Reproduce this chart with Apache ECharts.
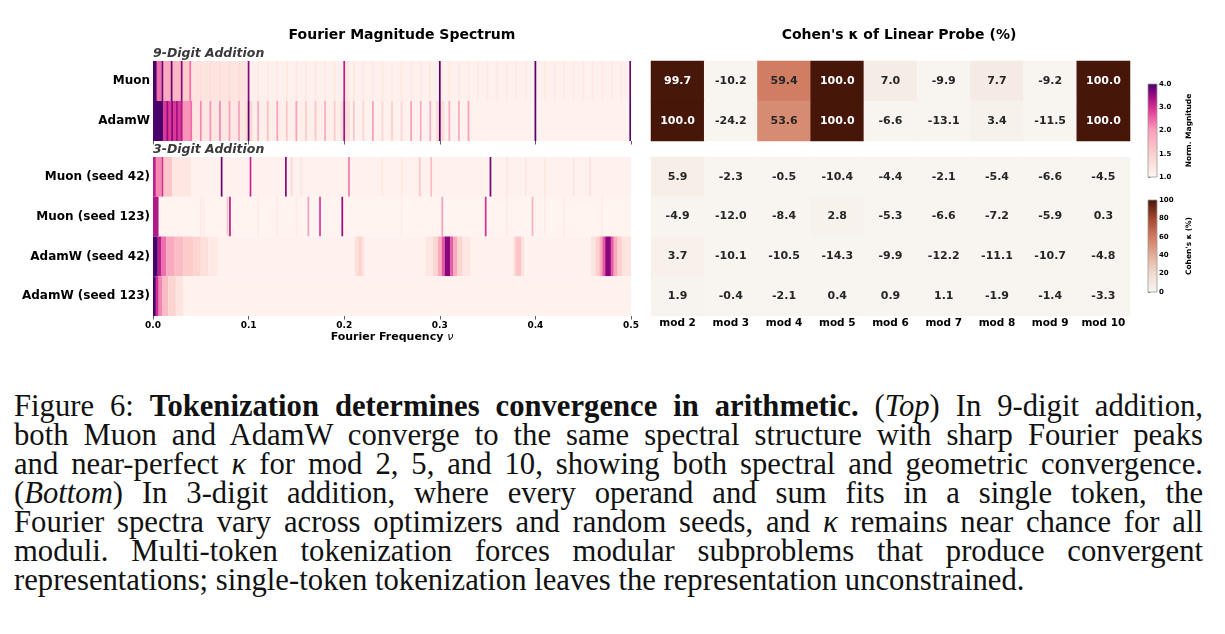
<!DOCTYPE html>
<html>
<head>
<meta charset="utf-8">
<script src="https://cdn.jsdelivr.net/npm/echarts/dist/echarts.min.js"></script>
<style>
  body { margin: 0; background: #fff; }
  #chart { position: absolute; left: 0; top: 0; width: 1225px; height: 360px; }
  #caption { position: absolute; left: 14px; width: 1189px; color: #111; }
  #caption .ln { text-align: justify; text-align-last: justify; }
  #caption .ln.last { text-align-last: left; }
</style>
</head>
<body>
<div id="chart"></div>
<div id="caption">
  <div class="ln">Figure 6: <b>Tokenization determines convergence in arithmetic.</b> (<i>Top</i>) In 9-digit addition,</div>
  <div class="ln">both Muon and AdamW converge to the same spectral structure with sharp Fourier peaks</div>
  <div class="ln">and near-perfect <i>κ</i> for mod 2, 5, and 10, showing both spectral and geometric convergence.</div>
  <div class="ln">(<i>Bottom</i>) In 3-digit addition, where every operand and sum fits in a single token, the</div>
  <div class="ln">Fourier spectra vary across optimizers and random seeds, and <i>κ</i> remains near chance for all</div>
  <div class="ln">moduli. Multi-token tokenization forces modular subproblems that produce convergent</div>
  <div class="ln last" id="lastLine">representations; single-token tokenization leaves the representation unconstrained.</div>
</div>
<script>
// rows / columns
var rows9 = ['Muon', 'AdamW'];
var rows3 = ['Muon (seed 42)', 'Muon (seed 123)', 'AdamW (seed 42)', 'AdamW (seed 123)'];
var mods = ['mod 2', 'mod 3', 'mod 4', 'mod 5', 'mod 6', 'mod 7', 'mod 8', 'mod 9', 'mod 10'];
var normTicks = ['1.0', '1.5', '2.0', '3.0', '4.0'];

// Cohen's kappa (%) per row, mod 2..10
var kappaMuon9 = [99.7, -10.2, 59.4, 100.0, 7.0, -9.9, 7.7, -9.2, 100.0];
var kappaAdamw9 = [100.0, -24.2, 53.6, 100.0, -6.6, -13.1, 3.4, -11.5, 100.0];
var kappaMuon42 = [5.9, -2.3, -0.5, -10.4, -4.4, -2.1, -5.4, -6.6, -4.5];
var kappaMuon123 = [-4.9, -12.0, -8.4, 2.8, -5.3, -6.6, -7.2, -5.9, 0.3];
var kappaAdamw42 = [3.7, -10.1, -10.5, -14.3, -9.9, -12.2, -11.1, -10.7, -4.8];
var kappaAdamw123 = [1.9, -0.4, -2.1, 0.4, 0.9, 1.1, -1.9, -1.4, -3.3];

// spectra: bands [f0, f1, magnitude], lines [f, magnitude] (one bin wide)
var BIN = 0.0018;
var muon9Bands = [[0, 0.004, 4.0], [0.004, 0.009, 2.4], [0.009, 0.019, 1.9], [0.019, 0.030, 1.75],
  [0.030, 0.040, 1.55], [0.040, 0.100, 1.25], [0.100, 0.500, 1.09], [0.200, 0.205, 1.22], [0.300, 0.303, 1.18]];
var muon9Lines = [[0.0098, 3.8], [0.0195, 3.8], [0.030, 3.6], [0.039, 2.4], [0.100, 3.6], [0.200, 3.2],
  [0.300, 3.9], [0.400, 3.9], [0.4992, 3.8],
  [0.05, 1.32], [0.06, 1.32], [0.07, 1.32], [0.08, 1.32], [0.09, 1.32],
  [0.11, 1.2], [0.12, 1.2], [0.13, 1.2], [0.14, 1.2], [0.15, 1.2], [0.16, 1.2], [0.17, 1.2], [0.18, 1.2], [0.19, 1.2],
  [0.21, 1.18], [0.22, 1.18], [0.23, 1.18], [0.24, 1.18], [0.25, 1.18], [0.26, 1.18], [0.27, 1.18], [0.28, 1.18], [0.29, 1.18],
  [0.31, 1.18], [0.32, 1.18], [0.33, 1.18], [0.34, 1.18], [0.35, 1.18], [0.36, 1.18], [0.37, 1.18], [0.38, 1.18], [0.39, 1.18],
  [0.41, 1.18], [0.42, 1.18], [0.43, 1.18], [0.44, 1.18], [0.45, 1.18], [0.46, 1.18], [0.47, 1.18], [0.48, 1.18], [0.49, 1.18]];

var adamw9Bands = [[0, 0.0105, 4.0], [0.0105, 0.030, 2.9], [0.030, 0.040, 2.1], [0.040, 0.100, 1.2],
  [0.100, 0.200, 1.1], [0.200, 0.500, 1.06], [0.097, 0.104, 1.4], [0.196, 0.206, 1.3], [0.296, 0.305, 1.35]];
var adamw9Lines = [[0.015, 3.5], [0.020, 3.6], [0.025, 3.4], [0.030, 3.3], [0.040, 2.4], [0.050, 2.2],
  [0.060, 2.1], [0.070, 2.2], [0.080, 2.0], [0.090, 2.0], [0.100, 3.9],
  [0.11, 1.9], [0.12, 1.7], [0.13, 2.0], [0.14, 1.6], [0.15, 2.0], [0.16, 1.55], [0.17, 1.6], [0.18, 1.9], [0.19, 1.55],
  [0.200, 3.4], [0.21, 1.6], [0.22, 1.45], [0.23, 2.0], [0.24, 1.4], [0.25, 1.5], [0.26, 1.4], [0.27, 2.0],
  [0.28, 1.9], [0.29, 1.9], [0.300, 3.9], [0.31, 1.9], [0.32, 1.9], [0.33, 2.0], [0.400, 3.9], [0.4992, 3.9]];

var muon42Bands = [[0, 0.003, 3.2], [0.003, 0.009, 2.2], [0.009, 0.020, 1.6], [0.020, 0.040, 1.2], [0.040, 0.500, 1.08]];
var muon42Lines = [[0.0098, 3.0], [0.0125, 1.6], [0.0718, 3.8], [0.102, 3.1], [0.139, 3.6], [0.145, 1.4],
  [0.155, 1.25], [0.205, 2.3], [0.24, 1.2], [0.26, 1.2], [0.279, 1.6], [0.291, 1.7], [0.353, 3.7],
  [0.37, 1.2], [0.39, 1.2], [0.41, 1.2], [0.44, 1.2], [0.457, 1.3]];

var muon123Bands = [[0, 0.006, 3.3], [0.006, 0.500, 1.04]];
var muon123Lines = [[0.05, 1.15], [0.0535, 1.15], [0.078, 1.6], [0.0805, 3.2], [0.11, 1.15], [0.13, 1.15],
  [0.15, 1.15], [0.1625, 2.0], [0.1747, 2.9], [0.198, 3.5], [0.26, 1.15], [0.3026, 2.0], [0.348, 3.0],
  [0.37, 1.15], [0.397, 1.8], [0.41, 1.15], [0.43, 1.15], [0.47, 1.15]];

var adamw42Bands = [[0, 0.005, 4.0], [0.005, 0.009, 3.2], [0.009, 0.014, 2.4], [0.014, 0.022, 1.9],
  [0.022, 0.032, 1.7], [0.032, 0.042, 1.55], [0.042, 0.050, 1.45], [0.050, 0.058, 1.3], [0.058, 0.068, 1.18],
  [0.068, 0.500, 1.07],
  [0.211, 0.214, 1.3], [0.214, 0.219, 1.45], [0.219, 0.221, 1.3],
  [0.285, 0.293, 1.2], [0.293, 0.298, 1.45], [0.298, 0.302, 1.9], [0.302, 0.305, 2.6], [0.305, 0.311, 3.6],
  [0.311, 0.314, 2.6], [0.314, 0.318, 1.9], [0.318, 0.324, 1.45], [0.324, 0.332, 1.2],
  [0.377, 0.379, 1.3], [0.379, 0.385, 1.6], [0.385, 0.388, 1.3],
  [0.458, 0.463, 1.25], [0.463, 0.467, 1.5], [0.467, 0.470, 1.9], [0.470, 0.473, 2.6], [0.473, 0.479, 3.6],
  [0.479, 0.482, 2.6], [0.482, 0.486, 1.9], [0.486, 0.491, 1.5], [0.491, 0.500, 1.25]];
var adamw42Lines = [];

var adamw123Bands = [[0, 0.003, 4.0], [0.003, 0.006, 3.0], [0.006, 0.010, 2.2], [0.010, 0.016, 1.7],
  [0.016, 0.024, 1.45], [0.024, 0.032, 1.25], [0.032, 0.500, 1.07]];
var adamw123Lines = [];

// colour maps (colorbar positions evenly spaced)
var normColors = ['#fff7f3', '#fcd0cc', '#f9a0bb', '#f062a6', '#d42d92', '#980a80', '#49006a'];
var kappaColors = ['#f8f5f1', '#f0dcd0', '#e4ad98', '#cf7b62', '#a3452e', '#461609'];

var FONT = 'DejaVu Sans';

function spectrumRow(bands, lines, rowIdx) {
  var out = [];
  bands.forEach(function (b) { out.push([b[0], b[1], rowIdx, b[2]]); });
  lines.forEach(function (l) { out.push([l[0] - BIN / 2, l[0] + BIN / 2, rowIdx, l[1]]); });
  return out;
}

function renderSpan(params, api) {
  var p0 = api.coord([api.value(0), api.value(2)]);
  var p1 = api.coord([api.value(1), api.value(2)]);
  var h = api.size([0, 1])[1];
  return {
    type: 'rect',
    shape: { x: p0[0], y: p0[1] - h / 2, width: Math.max(p1[0] - p0[0], 0.9), height: h },
    style: { fill: api.visual('color') }
  };
}

function heatData(rowsVals) {
  var out = [];
  rowsVals.forEach(function (vals, r) {
    vals.forEach(function (v, c) {
      out.push({ value: [c, r, v], label: { color: v > 80 ? '#ffffff' : '#262626' } });
    });
  });
  return out;
}

function colorbar(stops) {
  return function (params, api) {
    var cs = params.coordSys;
    return {
      type: 'rect',
      shape: { x: cs.x, y: cs.y, width: cs.width, height: cs.height },
      style: { fill: new echarts.graphic.LinearGradient(0, 1, 0, 0, stops), stroke: '#9a9a9a', lineWidth: 0.8 }
    };
  };
}

var normStops = [
  { offset: 0, color: normColors[0] }, { offset: 0.25, color: normColors[1] }, { offset: 0.5, color: normColors[2] },
  { offset: 0.625, color: normColors[3] }, { offset: 0.75, color: normColors[4] }, { offset: 0.875, color: normColors[5] },
  { offset: 1, color: normColors[6] }];
var kappaStops = kappaColors.map(function (c, i) { return { offset: i / (kappaColors.length - 1), color: c }; });

var rowLabel = { fontSize: 12, fontWeight: 'bold', color: '#000', margin: 3, fontFamily: FONT };
var tickStyle = { show: true, length: 3.5, lineStyle: { color: '#333', width: 0.8 } };
var subTitle = { font: 'italic bold 12.5px "DejaVu Sans"', fill: '#3a3a3a', verticalAlign: 'middle' };
var kappaLabel = { show: true, fontSize: 11, fontWeight: 'bold', fontFamily: FONT,
  formatter: function (p) { return p.value[2].toFixed(1); } };

var chart = echarts.init(document.getElementById('chart'));
chart.setOption({
  animation: false,
  textStyle: { fontFamily: FONT },
  graphic: [
    { type: 'text', x: 402, y: 35, style: { text: 'Fourier Magnitude Spectrum', font: 'bold 14px "DejaVu Sans"', fill: '#000', align: 'center', verticalAlign: 'middle' } },
    { type: 'text', x: 899, y: 35, style: { text: "Cohen's κ of Linear Probe (%)", font: 'bold 14px "DejaVu Sans"', fill: '#000', align: 'center', verticalAlign: 'middle' } },
    { type: 'text', x: 153, y: 54, style: Object.assign({ text: '9-Digit Addition' }, subTitle) },
    { type: 'text', x: 153, y: 150, style: Object.assign({ text: '3-Digit Addition' }, subTitle) }
  ],
  grid: [
    { left: 153, top: 61, width: 478, height: 80 },
    { left: 153, top: 157, width: 478, height: 159 },
    { left: 651, top: 61, width: 479, height: 80 },
    { left: 651, top: 157, width: 479, height: 159 },
    { left: 1148, top: 84, width: 9, height: 93 },
    { left: 1148, top: 200, width: 9, height: 92 }
  ],
  xAxis: [
    { gridIndex: 0, type: 'value', min: 0, max: 0.5, interval: 0.1, axisLine: { show: false }, axisTick: tickStyle,
      axisLabel: { show: false }, splitLine: { show: false } },
    { gridIndex: 1, type: 'value', min: 0, max: 0.5, interval: 0.1, axisLine: { show: false }, axisTick: tickStyle,
      axisLabel: { fontSize: 9, fontWeight: 'bold', color: '#000', margin: 5, formatter: function (v) { return v.toFixed(1); } },
      splitLine: { show: false },
      name: 'Fourier Frequency {it|ν}', nameLocation: 'middle', nameGap: 16,
      nameTextStyle: { fontSize: 11, fontWeight: 'bold', color: '#000', rich: { it: { fontSize: 11, fontStyle: 'italic', fontWeight: 'normal', color: '#000' } } } },
    { gridIndex: 2, type: 'category', data: mods, axisLine: { show: false }, axisTick: { show: false }, axisLabel: { show: false } },
    { gridIndex: 3, type: 'category', data: mods, axisLine: { show: false }, axisTick: { show: false },
      axisLabel: { interval: 0, fontSize: 10.5, fontWeight: 'bold', color: '#000', margin: 2 } },
    { gridIndex: 4, type: 'value', min: 0, max: 1, show: false },
    { gridIndex: 5, type: 'value', min: 0, max: 1, show: false }
  ],
  yAxis: [
    { gridIndex: 0, type: 'category', data: rows9, inverse: true, axisLine: { show: false }, axisTick: { show: false }, axisLabel: rowLabel },
    { gridIndex: 1, type: 'category', data: rows3, inverse: true, axisLine: { show: false }, axisTick: { show: false }, axisLabel: rowLabel },
    { gridIndex: 2, type: 'category', data: rows9, inverse: true, show: false },
    { gridIndex: 3, type: 'category', data: rows3, inverse: true, show: false },
    { gridIndex: 4, type: 'category', data: normTicks, boundaryGap: false, position: 'right',
      axisLine: { show: false }, axisTick: { show: true, length: 2.5, lineStyle: { color: '#444', width: 0.7 } },
      axisLabel: { fontSize: 7, fontWeight: 'bold', color: '#000', margin: 2 },
      name: 'Norm. Magnitude', nameLocation: 'middle', nameRotate: 90, nameGap: 28,
      nameTextStyle: { fontSize: 7.5, fontWeight: 'bold', color: '#000' } },
    { gridIndex: 5, type: 'value', min: 0, max: 100, interval: 20, position: 'right', splitLine: { show: false },
      axisLine: { show: false }, axisTick: { show: true, length: 2.5, lineStyle: { color: '#444', width: 0.7 } },
      axisLabel: { fontSize: 7, fontWeight: 'bold', color: '#000', margin: 2 },
      name: "Cohen's κ (%)", nameLocation: 'middle', nameRotate: 90, nameGap: 28,
      nameTextStyle: { fontSize: 7.5, fontWeight: 'bold', color: '#000' } }
  ],
  visualMap: [
    { type: 'continuous', show: false, seriesIndex: [0, 1], dimension: 3, min: 1, max: 4, inRange: { color: normColors } },
    { type: 'continuous', show: false, seriesIndex: [2, 3], dimension: 2, min: 0, max: 100,
      inRange: { color: kappaColors }, outOfRange: { color: kappaColors[0] } }
  ],
  series: [
    { type: 'custom', xAxisIndex: 0, yAxisIndex: 0, renderItem: renderSpan, clip: true, silent: true,
      encode: { x: [0, 1], y: 2 },
      data: spectrumRow(muon9Bands, muon9Lines, 0).concat(spectrumRow(adamw9Bands, adamw9Lines, 1)) },
    { type: 'custom', xAxisIndex: 1, yAxisIndex: 1, renderItem: renderSpan, clip: true, silent: true,
      encode: { x: [0, 1], y: 2 },
      data: spectrumRow(muon42Bands, muon42Lines, 0).concat(spectrumRow(muon123Bands, muon123Lines, 1),
        spectrumRow(adamw42Bands, adamw42Lines, 2), spectrumRow(adamw123Bands, adamw123Lines, 3)) },
    { type: 'heatmap', xAxisIndex: 2, yAxisIndex: 2, data: heatData([kappaMuon9, kappaAdamw9]), label: kappaLabel },
    { type: 'heatmap', xAxisIndex: 3, yAxisIndex: 3, data: heatData([kappaMuon42, kappaMuon123, kappaAdamw42, kappaAdamw123]), label: kappaLabel },
    { type: 'custom', xAxisIndex: 4, yAxisIndex: 4, renderItem: colorbar(normStops), silent: true, data: [[0, 0]] },
    { type: 'custom', xAxisIndex: 5, yAxisIndex: 5, renderItem: colorbar(kappaStops), silent: true, data: [[0, 0]] }
  ]
});

// caption: size the serif font so the last (unjustified) line spans the same width as in the figure
var CAP_FONT = '"Liberation Serif", "Times New Roman", serif';
var ctx = document.createElement('canvas').getContext('2d');
ctx.font = '100px ' + CAP_FONT;
var fs = 100 * 1011 / ctx.measureText(document.getElementById('lastLine').textContent).width;
var lineH = 29;
var cap = document.getElementById('caption');
cap.style.fontFamily = CAP_FONT;
cap.style.fontSize = fs + 'px';
cap.style.lineHeight = lineH + 'px';
cap.style.top = (417 - ((lineH - 1.107 * fs) / 2 + 0.891 * fs)) + 'px';
</script>
</body>
</html>
